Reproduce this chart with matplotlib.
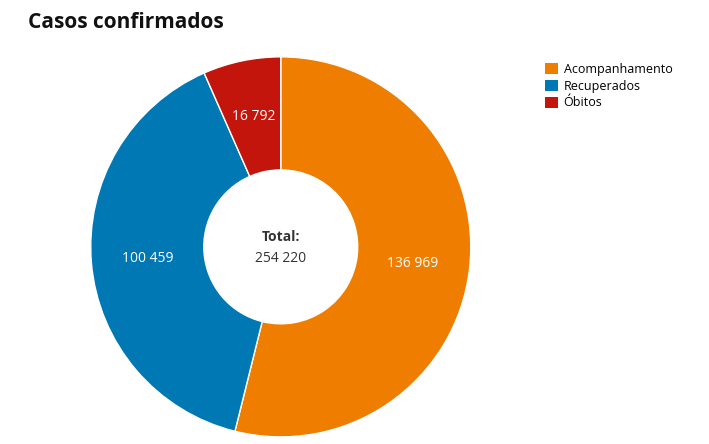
import matplotlib.pyplot as plt
from matplotlib.patches import Patch

plt.rcParams['font.family'] = ['Open Sans', 'DejaVu Sans']

categories = ["Acompanhamento", "Recuperados", "Óbitos"]
values = [136969, 100459, 16792]
colors = ["#ef7d00", "#0078b4", "#c4150c"]

def fmt(v):
    return f"{v:,}".replace(",", " ")

fig = plt.figure(figsize=(7.09, 4.44), dpi=100)
ax = fig.add_axes([0.128, 0.016, 0.536, 0.856])
wedges, texts = ax.pie(values, colors=colors, startangle=90, counterclock=False,
                       labels=[fmt(v) for v in values], labeldistance=0.7,
                       wedgeprops=dict(width=0.595, edgecolor="white", linewidth=1),
                       textprops=dict(color="white", fontsize=10, ha="center", va="center"))
ax.set_aspect("equal")
ax.set_xlim(-1, 1)
ax.set_ylim(-1, 1)

ax.text(0, 0.05, "Total:", ha="center", va="center", fontsize=10, fontweight="bold", color="#333333")
ax.text(0, -0.06, fmt(sum(values)), ha="center", va="center", fontsize=10, color="#333333")

fig.text(28 / 709, 1 - 22 / 444, "Casos confirmados", fontsize=15, fontweight="bold",
         ha="left", va="center", color="#111111")

handles = [Patch(facecolor=c, edgecolor="none") for c in colors]
fig.legend(handles, categories, loc="upper left", bbox_to_anchor=(540 / 709, 1 - 58 / 444),
           frameon=False, fontsize=9, handlelength=1.0, handleheight=1.0,
           handletextpad=0.5, labelspacing=0.3, borderaxespad=0)

fig.savefig("out.png", dpi=100)
